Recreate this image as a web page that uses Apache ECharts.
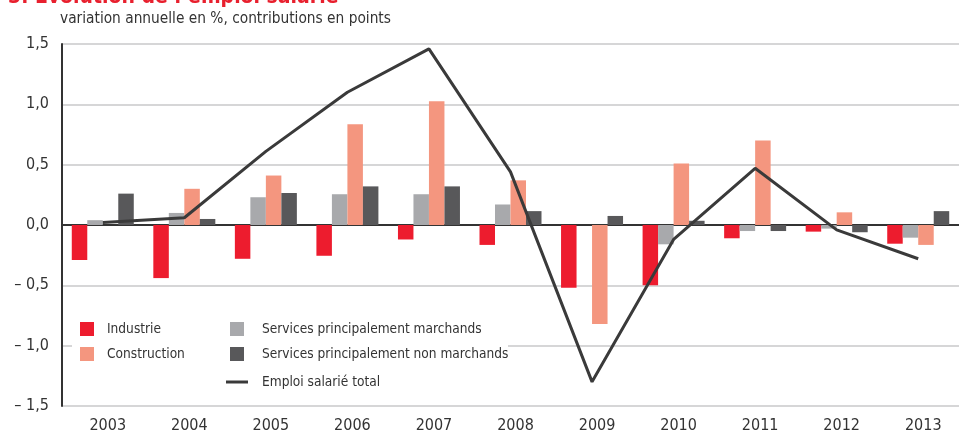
<!DOCTYPE html>
<html>
<head>
<meta charset="utf-8">
<script src="https://cdn.jsdelivr.net/npm/echarts@6/dist/echarts.min.js"></script>
<style>
  html, body { margin: 0; padding: 0; background: #fff; }
  #chart { width: 959px; height: 436px; }
</style>
</head>
<body>
<div id="chart"></div>
<script>
var years = ['2003', '2004', '2005', '2006', '2007', '2008', '2009', '2010', '2011', '2012', '2013'];
var industrie = [-0.29, -0.44, -0.28, -0.255, -0.12, -0.165, -0.52, -0.50, -0.11, -0.055, -0.155];
var construction = [0, 0.30, 0.41, 0.835, 1.025, 0.37, -0.82, 0.51, 0.70, 0.105, -0.165];
var marchands = [0.04, 0.10, 0.23, 0.255, 0.255, 0.17, 0, -0.16, -0.05, -0.03, -0.105];
var nonMarchands = [0.26, 0.05, 0.265, 0.32, 0.32, 0.115, 0.075, 0.035, -0.05, -0.06, 0.115];
var emploiTotal = [0.02, 0.06, 0.61, 1.10, 1.46, 0.44, -1.30, -0.12, 0.47, -0.04, -0.28];

var font = '"Liberation Sans Narrow", "DejaVu Sans Condensed", sans-serif';
var dark = '#333333';

var myChart = echarts.init(document.getElementById('chart'));

function fmt(v) {
    var s = Math.abs(v).toFixed(1).replace('.', ',');
    return v < 0 ? '\u2013 ' + s : s;
}

option = {
    animation: false,
    title: [{
        text: '3. Évolution de l\u2019emploi salarié',
        left: 8,
        top: -13,
        padding: 0,
        textStyle: { color: '#e8202e', fontSize: 21, fontWeight: 'bold', fontFamily: font }
    }, {
        text: 'variation annuelle en %, contributions en points',
        left: 60,
        top: 12,
        padding: 0,
        textStyle: { color: dark, fontSize: 15.3, fontWeight: 'normal', fontFamily: font }
    }],
    grid: { left: 62, right: -7, top: 44, bottom: 30 },
    graphic: [{
        type: 'rect',
        z: 3,
        shape: { x: 72, y: 305, width: 436, height: 90 },
        style: { fill: '#fff' }
    }],
    legend: [{
        orient: 'vertical',
        left: 80,
        top: 322,
        padding: 0,
        itemWidth: 14,
        itemHeight: 14,
        itemGap: 11,
        icon: 'rect',
        data: ['Industrie', 'Construction'],
        textStyle: { color: dark, fontSize: 13.6, lineHeight: 14, fontFamily: font, padding: [0, 0, 0, 8] }
    }, {
        orient: 'vertical',
        left: 230,
        top: 322,
        padding: 0,
        itemWidth: 14,
        itemHeight: 14,
        itemGap: 11,
        icon: 'rect',
        data: ['Services principalement marchands', 'Services principalement non marchands'],
        textStyle: { color: dark, fontSize: 13.6, lineHeight: 14, fontFamily: font, padding: [0, 0, 0, 13] }
    }, {
        orient: 'vertical',
        left: 226,
        top: 375,
        padding: 0,
        itemWidth: 22,
        itemHeight: 3,
        icon: 'rect',
        data: ['Emploi salarié total'],
        textStyle: { color: dark, fontSize: 13.6, lineHeight: 14, fontFamily: font, padding: [0, 0, 0, 9] }
    }],
    xAxis: [{
        type: 'category',
        data: years,
        axisLine: { onZero: true, lineStyle: { color: dark, width: 2 } },
        axisTick: { show: false },
        axisLabel: { show: false }
    }, {
        type: 'category',
        data: years,
        position: 'bottom',
        axisLine: { show: false, onZero: false },
        axisTick: { show: false },
        axisLabel: { color: dark, fontSize: 16, fontFamily: font, margin: 12, padding: [0, 0, 0, 10] }
    }],
    yAxis: {
        type: 'value',
        min: -1.5,
        max: 1.5,
        interval: 0.5,
        axisLine: { show: true, lineStyle: { color: dark, width: 2 } },
        axisTick: { show: false },
        axisLabel: { color: dark, fontSize: 16, fontFamily: font, margin: 13, formatter: fmt },
        splitLine: { lineStyle: { color: '#c8c8ca', width: 1.5 } }
    },
    series: [
        { name: 'Industrie', type: 'bar', barWidth: 15.5, barGap: '0%', data: industrie, itemStyle: { color: '#ed1c2e' } },
        { name: 'Services principalement marchands', type: 'bar', barWidth: 15.5, barGap: '0%', data: marchands, itemStyle: { color: '#a8a9ac' } },
        { name: 'Construction', type: 'bar', barWidth: 15.5, barGap: '0%', data: construction, itemStyle: { color: '#f4967f' } },
        { name: 'Services principalement non marchands', type: 'bar', barWidth: 15.5, barGap: '0%', data: nonMarchands, itemStyle: { color: '#58585a' } },
        {
            name: 'Emploi salarié total', type: 'line', data: emploiTotal, symbol: 'none', z: 5,
            lineStyle: { color: '#3a3a3a', width: 3 }, itemStyle: { color: '#3a3a3a' }
        }
    ]
};
myChart.setOption(option);
</script>
</body>
</html>
